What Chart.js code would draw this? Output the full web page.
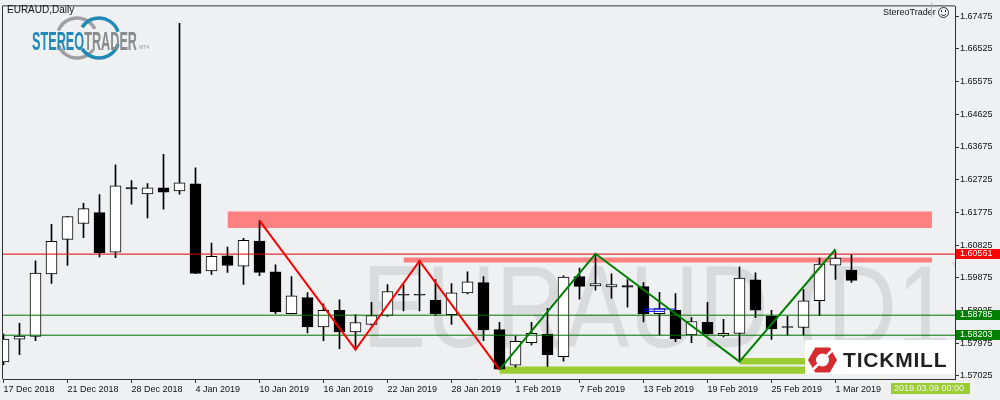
<!DOCTYPE html>
<html>
<head>
<meta charset="utf-8">
<script src="https://cdn.jsdelivr.net/npm/chart.js@4/dist/chart.umd.min.js"></script>
<style>
  html, body { margin: 0; padding: 0; background: #eff0f2; }
  #wrap { width: 1000px; height: 400px; }
</style>
</head>
<body>
<div id="wrap"><canvas id="myChart" width="1000" height="400"></canvas></div>
<script>
// EURAUD daily candles
const dates = [
  '17 Dec 2018','18 Dec 2018','19 Dec 2018','20 Dec 2018','21 Dec 2018','24 Dec 2018','26 Dec 2018','27 Dec 2018',
  '28 Dec 2018','31 Dec 2018','2 Jan 2019','3 Jan 2019','4 Jan 2019','7 Jan 2019','8 Jan 2019','9 Jan 2019',
  '10 Jan 2019','11 Jan 2019','14 Jan 2019','15 Jan 2019','16 Jan 2019','17 Jan 2019','18 Jan 2019','21 Jan 2019',
  '22 Jan 2019','23 Jan 2019','24 Jan 2019','25 Jan 2019','28 Jan 2019','29 Jan 2019','30 Jan 2019','31 Jan 2019',
  '1 Feb 2019','4 Feb 2019','5 Feb 2019','6 Feb 2019','7 Feb 2019','8 Feb 2019','11 Feb 2019','12 Feb 2019',
  '13 Feb 2019','14 Feb 2019','15 Feb 2019','18 Feb 2019','19 Feb 2019','20 Feb 2019','21 Feb 2019','22 Feb 2019',
  '25 Feb 2019','26 Feb 2019','27 Feb 2019','28 Feb 2019','1 Mar 2019','4 Mar 2019'
];
const opens = [
  1.57429,1.58091,1.58169,1.59982,1.60990,1.61450,1.61767,1.60616,1.62495,1.62314,1.62487,1.62400,1.62602,1.60069,
  1.60509,1.60213,1.60941,1.60048,1.58831,1.59300,1.58445,1.58926,1.58301,1.58514,1.58782,1.59390,1.59390,1.59214,
  1.58802,1.59435,1.59732,1.58370,1.57334,1.57985,1.58226,1.57582,1.59905,1.59637,1.59608,1.59645,1.59617,1.58831,
  1.58926,1.58215,1.58580,1.58186,1.58255,1.59810,1.58753,1.58457,1.58428,1.59205,1.60241,1.60097
];
const highs = [
  1.58235,1.58552,1.60365,1.61430,1.61661,1.62035,1.62294,1.63157,1.62697,1.62610,1.63465,1.67274,1.63071,1.60883,
  1.60768,1.61018,1.61537,1.60250,1.59905,1.59444,1.59119,1.59234,1.58802,1.59156,1.59674,1.59674,1.60365,1.59818,
  1.59703,1.60048,1.59905,1.58580,1.58177,1.58580,1.58983,1.59933,1.60155,1.60570,1.59991,1.59818,1.59732,1.59453,
  1.59415,1.58716,1.59156,1.58667,1.60192,1.60020,1.58926,1.58753,1.59539,1.60443,1.60633,1.60538
];
const lows = [
  1.57343,1.57639,1.58042,1.59712,1.60230,1.61036,1.60480,1.60460,1.62014,1.61612,1.61871,1.62302,1.59990,1.59971,
  1.60028,1.59683,1.59933,1.58831,1.58820,1.58272,1.58042,1.57812,1.57783,1.58500,1.58753,1.58906,1.58906,1.58782,
  1.58514,1.59407,1.58042,1.57200,1.57277,1.57918,1.57294,1.57449,1.59251,1.59510,1.59280,1.59021,1.58589,1.58206,
  1.58013,1.57985,1.58230,1.58157,1.57438,1.58716,1.58083,1.58206,1.58206,1.58773,1.59827,1.59741
];
const closes = [
  1.58091,1.58177,1.60011,1.60932,1.61652,1.61882,1.60604,1.62544,1.62458,1.62487,1.62360,1.62630,1.59999,1.60500,
  1.60230,1.60961,1.60028,1.58877,1.59349,1.58445,1.58926,1.58301,1.58572,1.58773,1.59473,1.59370,1.59370,1.58831,
  1.59435,1.59752,1.58359,1.57219,1.58025,1.58255,1.57639,1.59896,1.59625,1.59703,1.59674,1.59597,1.58819,1.58975,
  1.58100,1.58601,1.58244,1.58255,1.59867,1.58934,1.58388,1.58428,1.59205,1.60270,1.60443,1.59798
];
const dateTicks = [0, 4, 8, 12, 16, 20, 24, 28, 32, 36, 40, 44, 48, 52];
const priceTicks = [1.57025,1.57975,1.58925,1.59875,1.60825,1.61775,1.62725,1.63675,1.64625,1.65575,1.66525,1.67475];

const redLevel = 1.60561;
const greenLevels = [1.58785, 1.58203];

// zigzag turning points (bar index, price)
const redZigIdx = [16, 22, 26, 31];
const redZigPrice = [1.61537, 1.57783, 1.60365, 1.57200];
const greenZigIdx = [31, 37, 46, 52];
const greenZigPrice = [1.57200, 1.60570, 1.57438, 1.60702];

// zones: [from index, to index, low, high]
const upperZone = [14, 58.03, 1.61318, 1.61798];
const lowerZone = [25, 58.03, 1.60316, 1.60460];
const supportBarA = [31, 50.2, 1.57084, 1.57294];
const supportBarB = [46, 50.2, 1.57351, 1.57544];
const blueMarks = [[40, 42, 1.58963], [40, 41.3, 1.58897]];

const FONT = '"Liberation Sans", Arial, sans-serif';

const zone = (z, color) => ({
  type: 'line',
  data: [{x: z[0], y: z[3]}, {x: z[1], y: z[3]}],
  fill: {value: z[2]},
  backgroundColor: color,
  borderWidth: 0,
  pointRadius: 0,
  order: 6
});
const hline = (y, color) => ({
  type: 'line',
  data: [{x: -1, y: y}, {x: 61, y: y}],
  borderColor: color,
  borderWidth: 1,
  pointRadius: 0,
  fill: false,
  order: 2
});
const zig = (xs, ys, color) => ({
  type: 'line',
  data: xs.map((x, i) => ({x: x, y: ys[i]})),
  borderColor: color,
  borderWidth: 2,
  pointRadius: 0,
  fill: false,
  tension: 0,
  order: 1
});

const datasets = [
  zone(upperZone, '#ff8080'),
  zone(lowerZone, '#ff8080'),
  zone(supportBarA, '#9acd32'),
  zone(supportBarB, '#9acd32'),
  {
    type: 'bar',
    data: dates.map((d, i) => ({x: i, y: [lows[i], highs[i]]})),
    backgroundColor: '#000',
    borderWidth: 0,
    barThickness: 1,
    grouped: false,
    order: 5
  },
  {
    type: 'bar',
    data: dates.map((d, i) => ({x: i, y: [opens[i], closes[i]]})),
    backgroundColor: dates.map((d, i) => closes[i] >= opens[i] ? '#ffffff' : '#000000'),
    borderColor: '#000',
    borderWidth: 1,
    borderSkipped: false,
    barThickness: 11,
    grouped: false,
    order: 4
  },
  hline(redLevel, '#e00000'),
  hline(greenLevels[0], '#007000'),
  hline(greenLevels[1], '#007000'),
  ...blueMarks.map(b => ({
    type: 'line', data: [{x: b[0], y: b[2]}, {x: b[1], y: b[2]}],
    borderColor: '#0000ff', borderWidth: 1, pointRadius: 0, fill: false, order: 3
  })),
  zig(redZigIdx, redZigPrice, '#ff0000'),
  zig(greenZigIdx, greenZigPrice, '#008000')
];

const watermark = {
  id: 'watermark',
  beforeDatasetsDraw(chart) {
    const {ctx, chartArea: a} = chart;
    ctx.save();
    ctx.beginPath();
    ctx.rect(a.left, a.top, a.right - a.left, a.bottom - a.top);
    ctx.clip();
    ctx.fillStyle = '#d9dadc';
    ctx.font = '116px ' + FONT;
    ctx.textBaseline = 'alphabetic';
    ctx.translate(362, 347);
    ctx.scale(0.83, 1);
    ctx.fillText('EURAUD (D1)', 0, 0);
    ctx.restore();
  }
};

const overlay = {
  id: 'overlay',
  afterDraw(chart) {
    const {ctx, chartArea: a} = chart;
    const ys = chart.scales.y;
    ctx.save();
    // frame left/top
    ctx.strokeStyle = '#333';
    ctx.lineWidth = 1;
    ctx.beginPath();
    ctx.moveTo(a.left - 0.5, a.bottom);
    ctx.lineTo(a.left - 0.5, a.top - 0.5);
    ctx.lineTo(a.right, a.top - 0.5);
    ctx.stroke();

    // title
    ctx.fillStyle = '#111';
    ctx.font = '10px ' + FONT;
    ctx.textBaseline = 'middle';
    ctx.fillText('EURAUD,Daily', 7, 10.5);

    // StereoTrader logo
    ctx.lineWidth = 3.5;
    ctx.strokeStyle = '#a0a0a0';
    ctx.beginPath(); ctx.arc(77, 38, 20, Math.PI * 1.12, Math.PI * 1.85); ctx.stroke();
    ctx.beginPath(); ctx.arc(77, 38, 20, Math.PI * 0.2, Math.PI * 0.88); ctx.stroke();
    ctx.strokeStyle = '#2189b5';
    ctx.beginPath(); ctx.arc(99, 38, 20, Math.PI * 1.18, Math.PI * 1.9); ctx.stroke();
    ctx.beginPath(); ctx.arc(99, 38, 20, Math.PI * 0.1, Math.PI * 0.82); ctx.stroke();
    ctx.font = 'bold 25px "Liberation Sans Narrow", ' + FONT;
    ctx.textBaseline = 'alphabetic';
    const wAll = ctx.measureText('STEREOTRADER').width;
    const wS = ctx.measureText('STEREO').width;
    const s = 105 / wAll;
    ctx.save();
    ctx.translate(32, 50);
    ctx.scale(s, 1);
    ctx.fillStyle = '#1f8ab8';
    ctx.fillText('STEREO', 0, 0);
    ctx.fillStyle = '#8a8a8a';
    ctx.fillText('TRADER', wS, 0);
    ctx.restore();
    ctx.font = '5px ' + FONT;
    ctx.fillStyle = '#999';
    ctx.fillText('MT4', 139, 49);

    // StereoTrader smiley top right
    ctx.fillStyle = '#111';
    ctx.font = '9px ' + FONT;
    ctx.textBaseline = 'middle';
    ctx.fillText('StereoTrader', 883, 12.5);
    ctx.strokeStyle = '#9acd32';
    ctx.lineWidth = 1;
    ctx.beginPath(); ctx.moveTo(931.5, 3); ctx.lineTo(931.5, 17); ctx.stroke();
    ctx.strokeStyle = '#333';
    ctx.beginPath(); ctx.arc(943.5, 12.5, 5, 0, Math.PI * 2); ctx.stroke();
    ctx.beginPath(); ctx.arc(943.5, 12.5, 3, Math.PI * 0.2, Math.PI * 0.8); ctx.stroke();
    ctx.fillStyle = '#333';
    ctx.fillRect(941, 10, 1, 2); ctx.fillRect(945, 10, 1, 2);

    // Tickmill box
    ctx.fillStyle = '#ffffff';
    ctx.fillRect(805, 340, a.right - 805, 34);
    const cx = 822.5, cy = 360, r = 14.5;
    ctx.fillStyle = '#d52b2f';
    ctx.beginPath();
    for (let k = 0; k < 6; k++) {
      const ang = Math.PI / 3 * k;
      const px = cx + r * Math.cos(ang), py = cy + r * Math.sin(ang);
      if (k === 0) ctx.moveTo(px, py); else ctx.lineTo(px, py);
    }
    ctx.closePath();
    ctx.fill();
    ctx.fillStyle = '#ffffff';
    ctx.beginPath(); ctx.arc(cx, cy, 6.5, 0, Math.PI * 2); ctx.fill();
    ctx.strokeStyle = '#ffffff';
    ctx.lineWidth = 2.5;
    ctx.beginPath(); ctx.moveTo(cx + 4, cy - 4); ctx.lineTo(cx + 12, cy - 12); ctx.stroke();
    ctx.beginPath(); ctx.moveTo(cx - 4, cy + 4); ctx.lineTo(cx - 12, cy + 12); ctx.stroke();
    ctx.fillStyle = '#231f20';
    ctx.font = 'bold 21px ' + FONT;
    ctx.textBaseline = 'alphabetic';
    ctx.letterSpacing = '0.8px';
    ctx.fillText('TICKMILL', 843, 367);
    ctx.letterSpacing = '0px';

    // price labels on the right axis
    ctx.font = '9px ' + FONT;
    ctx.textBaseline = 'middle';
    const tag = (v, bg) => {
      const y = ys.getPixelForValue(v);
      ctx.fillStyle = bg;
      ctx.fillRect(956, Math.round(y) - 5, 44, 10);
      ctx.fillStyle = '#ffffff';
      ctx.fillText(v.toFixed(5), 960, Math.round(y));
    };
    tag(redLevel, '#ff0000');
    greenLevels.forEach(v => tag(v, '#008000'));

    // time label
    ctx.fillStyle = '#9acd32';
    ctx.fillRect(891, 383, 79, 11);
    ctx.fillStyle = '#f4f4f4';
    ctx.fillText('2019.03.09 00:00', 894, 388.5);
    ctx.restore();
  }
};

new Chart(document.getElementById('myChart'), {
  type: 'bar',
  data: {datasets: datasets},
  options: {
    responsive: false,
    devicePixelRatio: 1,
    animation: false,
    layout: {padding: {left: 3, top: 3, right: 0, bottom: 0}},
    plugins: {legend: {display: false}, tooltip: {enabled: false}},
    scales: {
      x: {
        type: 'linear',
        min: -0.03125,
        max: 59.469,
        offset: false,
        grid: {drawOnChartArea: false, drawTicks: true, tickLength: 4, color: '#333', offset: false},
        border: {display: true, color: '#333'},
        afterBuildTicks: scale => { scale.ticks = dateTicks.map(v => ({value: v})); },
        afterFit: scale => { scale.height = 21; },
        ticks: {
          autoSkip: false, maxRotation: 0, align: 'start', padding: 1,
          color: '#111', font: {family: FONT, size: 9},
          callback: v => dates[v]
        }
      },
      y: {
        type: 'linear',
        position: 'right',
        min: 1.56930,
        max: 1.67763,
        beginAtZero: false,
        grid: {drawOnChartArea: false, drawTicks: true, tickLength: 4, color: '#333'},
        border: {display: true, color: '#333'},
        afterBuildTicks: scale => { scale.ticks = priceTicks.map(v => ({value: v})); },
        afterFit: scale => { scale.width = 45; },
        ticks: {
          padding: 1, color: '#111', font: {family: FONT, size: 9},
          callback: v => v.toFixed(5)
        }
      }
    }
  },
  plugins: [watermark, overlay]
});
</script>
</body>
</html>
